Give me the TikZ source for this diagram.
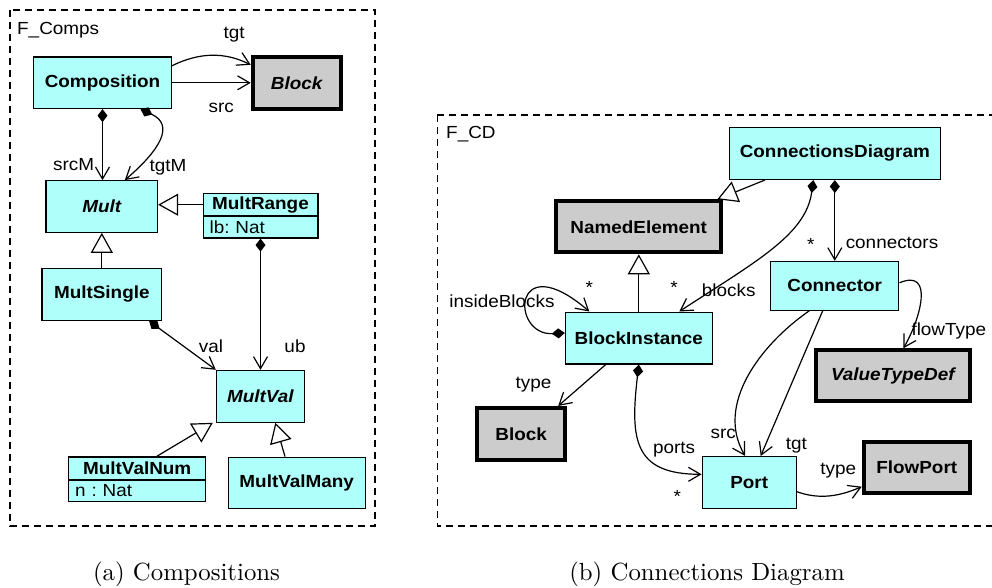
\documentclass[tikz,border=0pt]{standalone}
\usepackage{fontspec}
\newfontfamily\umlfont{Liberation Sans}[FakeStretch=1.08]
\usetikzlibrary{arrows.meta}

\definecolor{clsfill}{RGB}{175,255,250}
\definecolor{extfill}{RGB}{204,204,204}

\tikzset{
  umltext/.style={font=\umlfont\fontsize{17.5pt}{20pt}\selectfont\frenchspacing},
  cls/.style={draw=black, fill=clsfill, line width=1.2pt, inner sep=0pt,
    font=\umlfont\fontsize{17.5pt}{20pt}\selectfont\bfseries},
  ext/.style={draw=black, fill=extfill, line width=4pt, inner sep=0pt,
    font=\umlfont\fontsize{17.5pt}{20pt}\selectfont\bfseries},
  attr/.style={draw=black, fill=clsfill, line width=1.2pt, align=left,
    inner xsep=6.5pt, inner ysep=0pt,
    font=\umlfont\fontsize{17.5pt}{20pt}\selectfont\frenchspacing},
  lbl/.style={umltext, inner sep=0pt},
  caption/.style={font=\fontsize{10pt}{12pt}\selectfont, scale=2.48, inner sep=0pt, anchor=base},
  pkgframe/.style={draw=black, line width=1.3pt, dash pattern=on 7pt off 5pt},
  assoc/.style={line width=1.2pt, -{Straight Barb[length=12pt,width=14pt]}},
  compo/.style={line width=1.2pt,
    {Diamond[length=13pt,width=10pt]}-{Straight Barb[length=12pt,width=14pt]}},
  gen/.style={line width=1.2pt, -{Triangle[length=20pt,width=22pt,fill=white]}},
}

\begin{document}
\begin{tikzpicture}[x=1pt, y=-1pt]
\useasboundingbox (0,0) rectangle (992,588);

% ---------------- package F_Comps ----------------
\draw[pkgframe] (10,10) rectangle (375,526);
\node[lbl, anchor=base west] (fcomps) at (17,34.3) {F\_Comps};

\node[cls, minimum width=137.5pt, minimum height=51.5pt] (comp) at (102.5,82.8) {Composition};
\node[ext, minimum width=88pt, minimum height=51.7pt] (blkA) at (296.7,82.8) {\itshape Block};
\node[cls, minimum width=111.5pt, minimum height=51.5pt] (mult) at (101.8,206.5) {\itshape Mult};
\node[cls, minimum width=114.8pt, minimum height=22pt] (mrh) at (260.5,204.7) {MultRange};
\node[attr, text width=101.8pt, minimum height=21.6pt] (mra) at (260.5,227.2) {lb: Nat};
\node[cls, minimum width=119.5pt, minimum height=52.3pt] (ms) at (101.8,294.3) {MultSingle};
\node[cls, minimum width=87.8pt, minimum height=51.8pt] (mv) at (260.3,396.3) {\itshape MultVal};
\node[cls, minimum width=137pt, minimum height=22.6pt] (mvnh) at (137.2,468.3) {MultValNum};
\node[attr, text width=124pt, minimum height=21pt] (mvna) at (137.2,490.8) {n : Nat};
\node[cls, minimum width=137pt, minimum height=51.6pt] (mvm) at (296.7,483) {MultValMany};

% associations
\draw[assoc] ([yshift=17pt]comp.east) .. controls (200,52) and (225,52) .. ([yshift=18pt]blkA.west);
\draw[assoc] (comp.east) -- (blkA.west);
\node[lbl] (ltgtA) at (234.2,35) {tgt};
\node[lbl] (lsrcA) at (221.3,107.5) {src};

\draw[compo] (comp.south) -- (comp.south |- mult.north);
\draw[compo] ([xshift=38pt]comp.south) .. controls (175,125) and (160,150) .. ([xshift=23pt]mult.north);
\node[lbl] (lsrcM) at (73.7,165) {srcM};
\node[lbl] (ltgtM) at (168,167.5) {tgtM};

\draw[gen] (mrh.west) -- (mrh.west -| mult.east);
\draw[gen] (ms.north) -- (ms.north |- mult.south);

\draw[compo] (mra.south) -- (mra.south |- mv.north);
\draw[compo] ([xshift=-13pt]ms.south east) -- (mv.north west);
\node[lbl] (lval) at (211,346.7) {val};
\node[lbl] (lub) at (295,346.7) {ub};

\draw[gen] ([xshift=19.5pt]mvnh.north) -- ([xshift=-3pt]mv.south west);
\draw[gen] ([xshift=-11.7pt]mvm.north) -- ([xshift=15pt]mv.south);

\node[caption] (capa) at (186.5,580.6) {(a) Compositions};

% ---------------- package F_CD ----------------
\draw[pkgframe] (437.3,115) -- (998,115) (437.3,115) -- (437.3,526) -- (998,526);
\node[lbl, anchor=base west] (fcd) at (446,139) {F\_CD};

\node[cls, minimum width=210.7pt, minimum height=52.3pt] (cd) at (834.8,153.3) {ConnectionsDiagram};
\node[ext, minimum width=165.3pt, minimum height=51pt] (ne) at (638.7,226.8) {NamedElement};
\node[cls, minimum width=146.7pt, minimum height=51.8pt] (bi) at (638.8,338) {BlockInstance};
\node[cls, minimum width=128.3pt, minimum height=48.7pt] (conn) at (834.7,285.8) {Connector};
\node[ext, minimum width=153.7pt, minimum height=51pt] (vtd) at (892.8,375.8) {\itshape ValueTypeDef};
\node[ext, minimum width=88.3pt, minimum height=51.7pt] (blkB) at (521.2,433.8) {Block};
\node[cls, minimum width=94pt, minimum height=52.3pt] (port) at (749.2,482.7) {Port};
\node[ext, minimum width=106pt, minimum height=51pt] (fp) at (916.7,467.5) {FlowPort};

\draw[gen] ([xshift=36pt]cd.south west) -- ([xshift=-6pt]ne.north east);
\draw[gen] (bi.north) -- (bi.north |- ne.south);

\draw[compo] ([xshift=-21.5pt]cd.south) .. controls (806,235) and (755,262) .. ([xshift=40.5pt]bi.north);
\node[lbl] (lblocks) at (728.7,290) {blocks};
\node[lbl, anchor=north] (mblocks) at (674,281.7) {*};

\draw[compo] (cd.south) -- (cd.south |- conn.north);
\node[lbl] (lconn) at (892,243.3) {connectors};
\node[lbl, anchor=north] (mconn) at (810.7,238.3) {*};

\draw[compo] ([yshift=5pt]bi.west) .. controls (510,336) and (512,245) .. ([xshift=-49.5pt]bi.north);
\node[lbl] (linside) at (502,301.7) {insideBlocks};
\node[lbl, anchor=north] (minside) at (589.3,281.7) {*};

\draw[assoc] ([xshift=-33pt]bi.south) -- ([xshift=37pt]blkB.north);
\node[lbl] (ltypeB) at (533.5,385) {type};

\draw[compo] (bi.south) .. controls (630,440) and (634,474.3) .. ([yshift=8.4pt]port.west);
\node[lbl] (lports) at (674,449.5) {ports};
\node[lbl, anchor=north] (mports) at (677.3,490.7) {*};

\draw[assoc] ([xshift=-25.4pt]conn.south) .. controls (760,345) and (715,405) .. ([xshift=-4pt]port.north);
\draw[assoc] ([xshift=-12pt]conn.south) -- ([xshift=11.5pt]port.north);
\node[lbl] (lsrcB) at (723.3,434) {src};
\node[lbl] (ltgtB) at (796.3,445.8) {tgt};

\draw[assoc] ([yshift=-9pt]port.east) .. controls (820,500) and (840,496) .. ([yshift=-19.2pt]fp.west);
\node[lbl] (ltypeP) at (838.3,470.8) {type};

\draw[assoc] ([yshift=3pt]conn.east) .. controls (935,268) and (920,320) .. ([xshift=10.5pt]vtd.north);
\node[lbl] (lflow) at (948.8,330.7) {flowType};

\node[caption] (capb) at (707,580.6) {(b) Connections Diagram};
\end{tikzpicture}
\end{document}
